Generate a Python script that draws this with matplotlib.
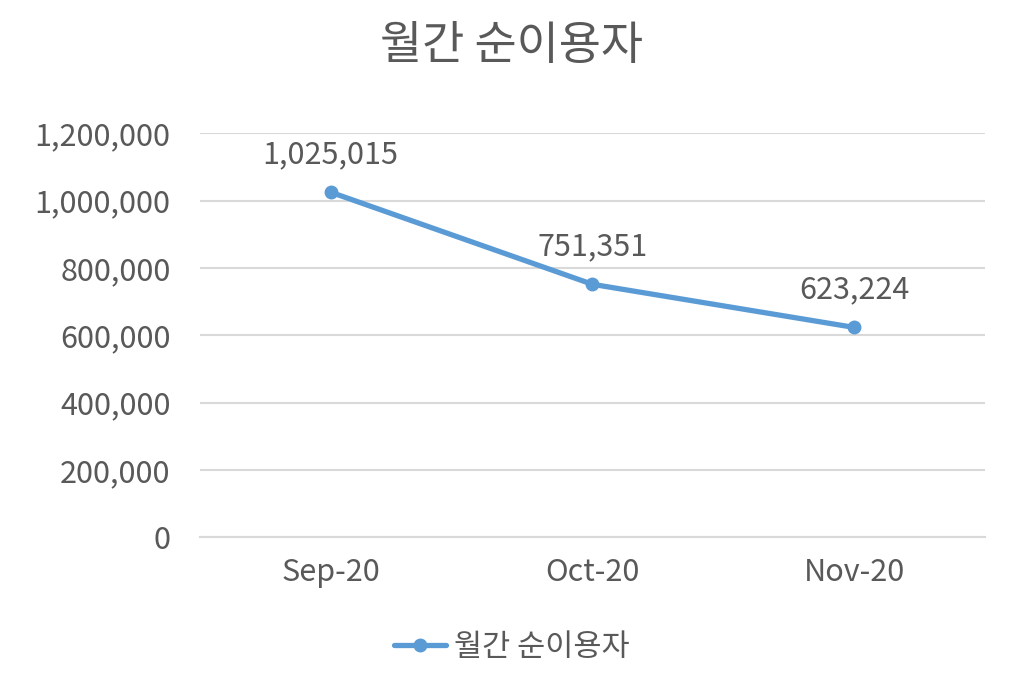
import matplotlib
matplotlib.use("Agg")
import matplotlib.pyplot as plt
from matplotlib.ticker import FuncFormatter

plt.rcParams['font.family'] = ['Noto Sans CJK KR', 'DejaVu Sans']

# data
months = ["Sep-20", "Oct-20", "Nov-20"]
users = [1025015, 751351, 623224]
series_name = "월간 순이용자"
yticks = [0, 200000, 400000, 600000, 800000, 1000000, 1200000]

text_color = "#595959"
line_color = "#5B9BD5"

fig = plt.figure(figsize=(10.24, 6.8), dpi=100)
ax = fig.add_axes([0.195, 0.21, 0.767, 0.594])

x = list(range(len(months)))
ax.plot(x, users, color=line_color, linewidth=3.8, marker="o", markersize=9,
        label=series_name, solid_capstyle="round")

for xi, v in zip(x, users):
    ax.annotate(f"{v:,}", (xi, v), xytext=(0, 21), textcoords="offset points",
                ha="center", va="baseline", fontsize=22, color=text_color)

ax.set_xlim(-0.5, len(months) - 0.5)
ax.set_ylim(0, 1200000)
ax.set_yticks(yticks)
ax.yaxis.set_major_formatter(FuncFormatter(lambda v, p: f"{int(v):,}"))
ax.set_xticks(x)
ax.set_xticklabels(months)
ax.grid(axis="y", color="#D9D9D9", linewidth=1.5)
ax.set_axisbelow(True)
for s in ["top", "right", "left"]:
    ax.spines[s].set_visible(False)
ax.spines["bottom"].set_color("#D9D9D9")
ax.spines["bottom"].set_linewidth(1.5)
ax.tick_params(axis="both", length=0, labelsize=22, labelcolor=text_color)
ax.tick_params(axis="y", pad=21)
ax.tick_params(axis="x", pad=14)

fig.suptitle(series_name, fontsize=33, color=text_color, y=0.968)

fig.legend(loc="lower center", bbox_to_anchor=(0.5, -0.015), frameon=False,
           fontsize=22, labelcolor=text_color, handlelength=1.7, handletextpad=0.25)

fig.savefig("out.png", dpi=100, facecolor="white")
